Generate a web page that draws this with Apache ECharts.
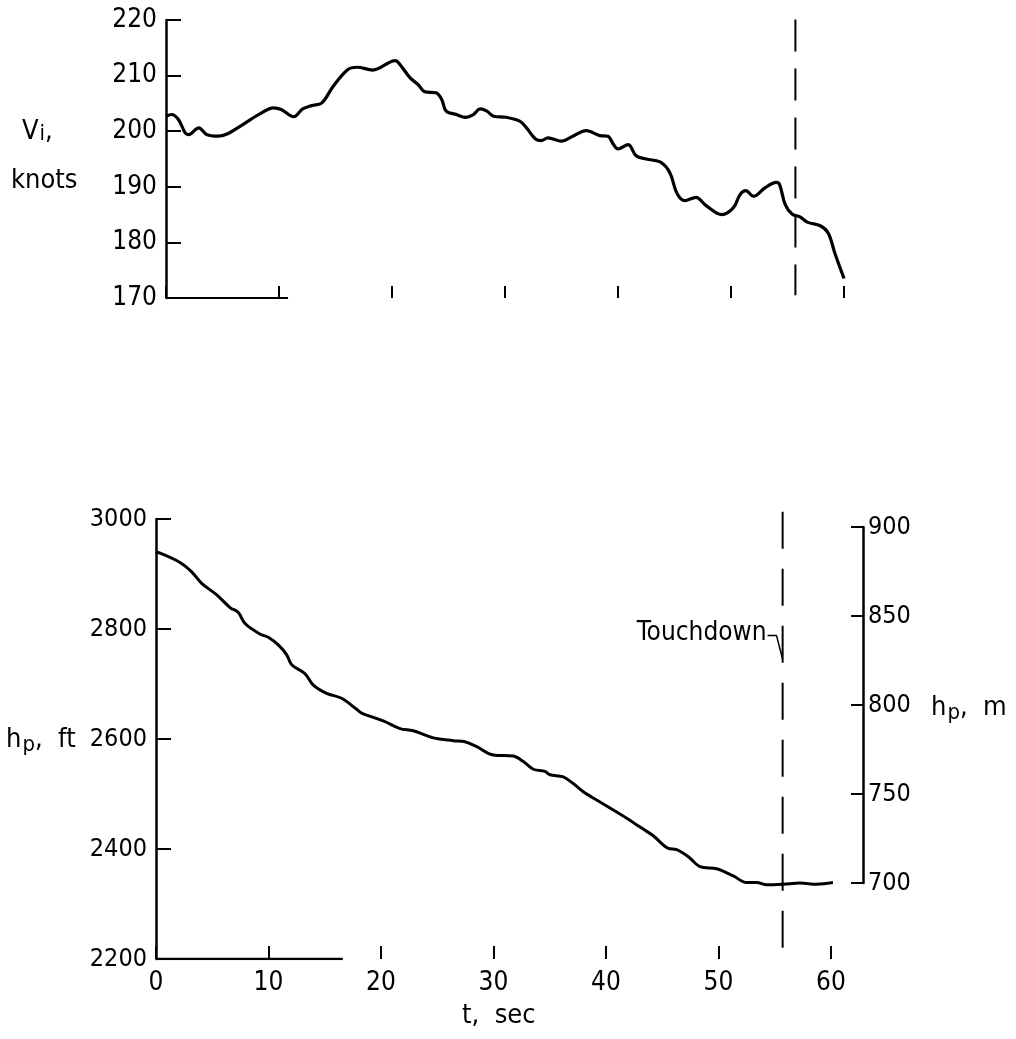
<!DOCTYPE html>
<html>
<head>
<meta charset="utf-8">
<script src="https://cdn.jsdelivr.net/npm/echarts@6/dist/echarts.min.js"></script>
<style>
html,body{margin:0;padding:0;background:#fff;}
#chart{width:1016px;height:1039px;}
</style>
</head>
<body>
<div id="chart"></div>
<script>
// ---- Data ----
const timeTicks = [0, 10, 20, 30, 40, 50, 60];
const viTicks = [170, 180, 190, 200, 210, 220];
const hftTicks = [2200, 2400, 2600, 2800, 3000];
const hmTicks = [700, 750, 800, 850, 900];

const viTime = [0,0.5,1.1,1.7,2.0,2.9,3.6,4.6,5.4,6.8,8.3,9.5,10.2,11.3,12.1,12.9,13.8,14.8,16.1,16.9,18.3,20.3,20.7,21.6,22.3,22.9,23.9,24.4,24.8,25.7,26.5,27.2,27.8,28.4,29.0,30.1,31.3,31.9,32.7,33.2,33.8,35.0,36.0,37.2,38.4,39.1,39.6,40.0,40.9,41.6,42.5,43.8,44.6,45.2,45.9,46.9,47.8,49.2,50.2,50.8,51.3,52.0,53.0,54.0,54.3,54.8,55.4,56.1,56.8,57.9,58.6,59.2,60.0];
const viKnots = [202.7,203.0,202.1,199.7,199.4,200.6,199.4,199.1,199.5,201.2,203.1,204.2,203.9,202.6,204.0,204.6,205.1,208.1,211.1,211.5,211.0,212.7,212.0,209.6,208.4,207.1,206.9,205.7,203.6,203.0,202.5,203.0,204.0,203.6,202.7,202.5,201.8,200.6,198.6,198.3,198.8,198.2,199.1,200.1,199.2,199.1,197.6,196.8,197.6,195.6,195.0,194.4,192.5,188.9,187.5,188.1,186.6,185.0,186.2,188.6,189.3,188.3,189.8,190.8,190.4,186.8,185.1,184.6,183.6,183.0,181.7,178.0,173.5];

const hpTime = [0,0.36,2.13,3.17,4.06,5.40,6.58,7.32,7.91,9.24,9.98,10.87,11.62,12.06,13.24,13.98,15.17,16.5,17.84,18.28,20.2,21.69,22.87,24.65,26.43,27.47,28.51,29.98,31.76,32.65,33.54,34.58,35.02,36.2,37.09,37.98,39.17,40.65,41.84,43.17,44.2,45.54,46.28,47.32,48.36,49.84,51.32,52.5,53.4,54.28,55.76,57.24,58.73,60.2];
const hpFeet = [2940,2938,2921,2904,2883,2862,2839,2830,2810,2791,2785,2771,2753,2735,2719,2698,2683,2674,2654,2647,2633,2619,2615,2602,2597,2595,2586,2571,2569,2559,2545,2541,2535,2531,2519,2504,2489,2471,2456,2438,2424,2401,2399,2386,2368,2364,2351,2339,2339,2335,2336,2338,2336,2339];

const touchdownT = 55.7;
const touchdownLabel = 'Touchdown';
const topAxisEndT = 10.8;     // drawn part of top time axis line
const bottomAxisEndT = 16.6;  // drawn part of bottom time axis line
const topDashRange = [220.1, 170.5];
const bottomDashRange = [3013, 2205];
const leaderT = [54.36, 55.16, 55.7];
const leaderH = [2788, 2788, 2745];

// ---- Build ----
const FONT = "'DejaVu Sans Condensed', 'Liberation Sans Narrow', sans-serif";
const zip = (a, b) => a.map((x, i) => [x, b[i]]);
const plain = v => String(v);

const axisLabelStyle = (size, margin) => ({ fontFamily: FONT, fontSize: size, color: '#000', margin: margin, formatter: plain });

const option = {
  animation: false,
  backgroundColor: '#fff',
  grid: [
    { left: 166, width: 678, top: 20, height: 278 },
    { left: 156, width: 675, top: 519, height: 440 },
    { left: 156, width: 707, top: 527, height: 356 }
  ],
  xAxis: [
    { gridIndex: 0, type: 'value', min: timeTicks[0], max: timeTicks[timeTicks.length-1], interval: 10,
      axisLine: { show: false }, splitLine: { show: false },
      axisTick: { show: true, inside: true, length: 12, lineStyle: { color: '#000', width: 2 } },
      axisLabel: { show: false } },
    { gridIndex: 1, type: 'value', min: timeTicks[0], max: timeTicks[timeTicks.length-1], interval: 10,
      axisLine: { show: false }, splitLine: { show: false },
      axisTick: { show: true, inside: true, length: 13, lineStyle: { color: '#000', width: 2 } },
      axisLabel: axisLabelStyle(26, 11) },
    { gridIndex: 2, type: 'value', min: 0, max: 60, show: false }
  ],
  yAxis: [
    { gridIndex: 0, type: 'value', min: viTicks[0], max: viTicks[viTicks.length-1], interval: 10,
      axisLine: { show: true, lineStyle: { color: '#000', width: 2.5 } }, splitLine: { show: false },
      axisTick: { show: true, inside: true, length: 15, lineStyle: { color: '#000', width: 2 } },
      axisLabel: axisLabelStyle(26, 9) },
    { gridIndex: 1, type: 'value', min: hftTicks[0], max: hftTicks[hftTicks.length-1], interval: 200,
      axisLine: { show: true, lineStyle: { color: '#000', width: 2.5 } }, splitLine: { show: false },
      axisTick: { show: true, inside: true, length: 15, lineStyle: { color: '#000', width: 2 } },
      axisLabel: axisLabelStyle(25, 9) },
    { gridIndex: 2, type: 'value', position: 'right', min: hmTicks[0], max: hmTicks[hmTicks.length-1], interval: 50,
      axisLine: { show: true, onZero: false, lineStyle: { color: '#000', width: 2.5 } }, splitLine: { show: false },
      axisTick: { show: true, inside: true, length: 12, lineStyle: { color: '#000', width: 2 } },
      axisLabel: axisLabelStyle(25, 5) }
  ],
  series: [
    { type: 'line', xAxisIndex: 0, yAxisIndex: 0, data: zip(viTime, viKnots), symbol: 'none', smooth: 0.35,
      lineStyle: { color: '#000', width: 3.2 } },
    { type: 'line', xAxisIndex: 0, yAxisIndex: 0, data: [[0, viTicks[0]], [topAxisEndT, viTicks[0]]], symbol: 'none',
      lineStyle: { color: '#000', width: 2 } },
    { type: 'line', xAxisIndex: 0, yAxisIndex: 0, clip: false,
      data: [[touchdownT, topDashRange[0]], [touchdownT, topDashRange[1]]], symbol: 'none',
      lineStyle: { color: '#000', width: 2, type: [32, 17] } },
    { type: 'line', xAxisIndex: 1, yAxisIndex: 1, data: zip(hpTime, hpFeet), symbol: 'none', smooth: 0.35,
      lineStyle: { color: '#000', width: 3 } },
    { type: 'line', xAxisIndex: 1, yAxisIndex: 1, data: [[0, hftTicks[0]], [bottomAxisEndT, hftTicks[0]]], symbol: 'none',
      lineStyle: { color: '#000', width: 2.5 } },
    { type: 'line', xAxisIndex: 1, yAxisIndex: 1, clip: false,
      data: [[touchdownT, bottomDashRange[0]], [touchdownT, bottomDashRange[1]]], symbol: 'none',
      lineStyle: { color: '#000', width: 2, type: [37, 20] } },
    { type: 'line', xAxisIndex: 1, yAxisIndex: 1, data: zip(leaderT, leaderH), symbol: 'none',
      lineStyle: { color: '#000', width: 1.5 } }
  ],
  graphic: [
    { type: 'text', left: 22, top: 118, style: {
        text: '{a|V}{s|i}{a|,}', fill: '#000',
        rich: { a: { fontFamily: FONT, fontSize: 27, verticalAlign: 'bottom' },
                s: { fontFamily: FONT, fontSize: 22, padding: [8, 0, 0, 1] } } } },
    { type: 'text', left: 11, top: 167, style: { text: 'knots', fill: '#000', font: '27px ' + FONT } },
    { type: 'text', left: 6, top: 726, style: {
        text: '{a|h}{s|p}{a|,  ft}', fill: '#000',
        rich: { a: { fontFamily: FONT, fontSize: 27 },
                s: { fontFamily: FONT, fontSize: 22, padding: [12, 0, 0, 1] } } } },
    { type: 'text', left: 931, top: 694, style: {
        text: '{a|h}{s|p}{a|,  m}', fill: '#000',
        rich: { a: { fontFamily: FONT, fontSize: 27 },
                s: { fontFamily: FONT, fontSize: 22, padding: [12, 0, 0, 1] } } } },
    { type: 'text', left: 462, top: 1002, style: { text: 't,  sec', fill: '#000', font: '27px ' + FONT } }
  ]
};

const chart = echarts.init(document.getElementById('chart'), null, { renderer: 'canvas' });
chart.setOption(option);

// Place the "Touchdown" annotation at the start of its leader, using the axis scales
const anchor = chart.convertToPixel({ xAxisIndex: 1, yAxisIndex: 1 }, [leaderT[0], leaderH[0]]);
chart.setOption({
  graphic: [
    { type: 'text', id: 'touchdown', x: anchor[0] - 1, y: anchor[1] - 2,
      style: { text: touchdownLabel, fill: '#000', font: '26px ' + FONT, align: 'right', verticalAlign: 'middle' } }
  ]
});
</script>
</body>
</html>
